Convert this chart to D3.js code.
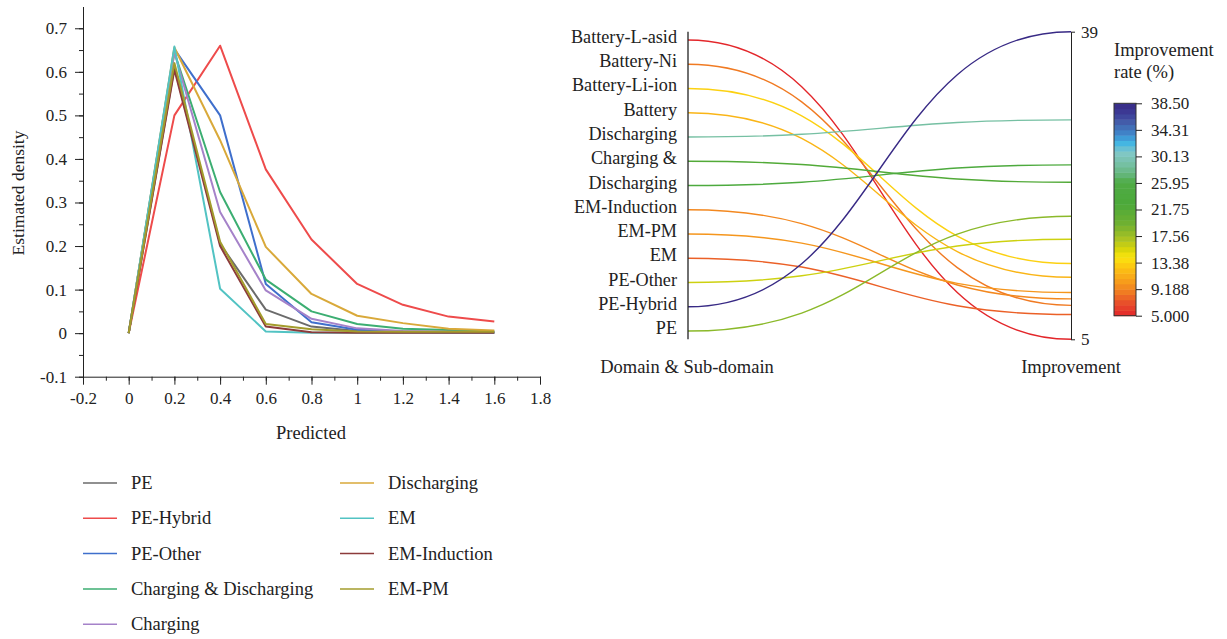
<!DOCTYPE html>
<html>
<head>
<meta charset="utf-8">
<script src="https://cdn.jsdelivr.net/npm/d3@7"></script>
<style>
  body { margin: 0; background: #fff; }
  svg { display: block; font-family: "Liberation Serif", "DejaVu Serif", serif; }
  .axis path, .axis line { stroke: #222; }
  .axis text { font-family: "Liberation Serif", serif; font-size: 17px; fill: #222; }
</style>
</head>
<body>
<svg id="chart" width="1227" height="639"></svg>
<script>
// ---- left chart data (density curves)
const predicted = [0, 0.2, 0.4, 0.6, 0.8, 1.0, 1.2, 1.4, 1.6];
const densityNames = ["PE", "PE-Hybrid", "PE-Other", "Charging & Discharging", "Charging",
                      "Discharging", "EM", "EM-Induction", "EM-PM"];
const densityColors = ["#6b6b6b", "#ee4b4b", "#3f6fcc", "#3cae72", "#a582c9",
                       "#d9a93a", "#52c3c3", "#8c3b3b", "#a39c2c"];
const densityPE         = [0, 0.610, 0.205, 0.054, 0.015, 0.005, 0.003, 0.002, 0.001];
const densityPEHybrid   = [0, 0.500, 0.660, 0.376, 0.215, 0.113, 0.065, 0.038, 0.027];
const densityPEOther    = [0, 0.652, 0.500, 0.113, 0.025, 0.008, 0.004, 0.003, 0.002];
const densityChDis      = [0, 0.645, 0.324, 0.123, 0.050, 0.021, 0.010, 0.007, 0.004];
const densityCharging   = [0, 0.645, 0.278, 0.098, 0.033, 0.011, 0.005, 0.003, 0.002];
const densityDischarg   = [0, 0.656, 0.443, 0.198, 0.090, 0.040, 0.023, 0.010, 0.006];
const densityEM         = [0, 0.658, 0.102, 0.004, 0.001, 0.001, 0.001, 0.001, 0.001];
const densityEMInd      = [0, 0.605, 0.200, 0.015, 0.002, 0.001, 0.001, 0.001, 0.001];
const densityEMPM       = [0, 0.620, 0.210, 0.021, 0.009, 0.004, 0.003, 0.003, 0.003];
const densitySeries = [densityPE, densityPEHybrid, densityPEOther, densityChDis, densityCharging,
                       densityDischarg, densityEM, densityEMInd, densityEMPM];
const xMajor = [-0.2, 0, 0.2, 0.4, 0.6, 0.8, 1, 1.2, 1.4, 1.6, 1.8];
const yMajor = [-0.1, 0, 0.1, 0.2, 0.3, 0.4, 0.5, 0.6, 0.7];

// ---- right chart data (parallel coordinates)
const domains = ["Battery-L-asid", "Battery-Ni", "Battery-Li-ion", "Battery", "Discharging",
                 "Charging", "Charging & Discharging", "EM-Induction", "EM-PM", "EM",
                 "PE-Other", "PE-Hybrid", "PE"];
const domainLabels = ["Battery-L-asid", "Battery-Ni", "Battery-Li-ion", "Battery", "Discharging",
                      "Charging &", "Discharging", "EM-Induction", "EM-PM", "EM",
                      "PE-Other", "PE-Hybrid", "PE"];
const improvement = [5.0, 8.7, 13.25, 11.75, 28.9, 22.1, 24.0, 9.4, 10.1, 7.7, 15.9, 38.5, 18.4];
const improvementRange = [5.0, 38.5];
const colorbarLabels = ["5.000", "9.188", "13.38", "17.56", "21.75", "25.95", "30.13", "34.31", "38.50"];
// colour map stops (fraction of range, colour)
const cmapStops = [0, 0.063, 0.11, 0.173, 0.228, 0.275, 0.314, 0.369, 0.432, 0.526, 0.628,
                   0.667, 0.714, 0.77, 0.816, 0.855, 0.903, 0.95, 1];
const cmapColors = ["#e3262a", "#e8502a", "#f07a22", "#f8a41a", "#fcc412", "#fbe50f", "#d8d50a",
                    "#a5c125", "#70b030", "#4ca93a", "#4fab45", "#65b67c", "#76c0a3", "#82c8c8",
                    "#40b4e4", "#3f88cc", "#4464ad", "#3d3d97", "#382a85"];

const svg = d3.select("#chart");

// ================= left: density chart =================
const x = d3.scaleLinear().domain([-0.2, 1.8]).range([83, 540]);
const y = d3.scaleLinear().domain([-0.1, 0.75]).range([376.7, 6.5]);
const fmt = d => String(+d.toFixed(2));

const left = svg.append("g");

// minor ticks
left.append("g").attr("class", "axis")
    .attr("transform", `translate(0,${y(-0.1)})`)
    .call(d3.axisBottom(x).tickValues(d3.range(-2, 19).map(i => i / 10)).tickSize(4).tickSizeOuter(0).tickFormat(""))
    .call(g => g.select(".domain").remove());
left.append("g").attr("class", "axis")
    .attr("transform", `translate(${x(-0.2)},0)`)
    .call(d3.axisLeft(y).tickValues(d3.range(-2, 15).map(i => i / 20)).tickSize(4).tickSizeOuter(0).tickFormat(""))
    .call(g => g.select(".domain").remove());

// major ticks
left.append("g").attr("class", "axis")
    .attr("transform", `translate(0,${y(-0.1)})`)
    .call(d3.axisBottom(x).tickValues(xMajor).tickSize(8).tickSizeOuter(0).tickPadding(7).tickFormat(fmt));
left.append("g").attr("class", "axis")
    .attr("transform", `translate(${x(-0.2)},0)`)
    .call(d3.axisLeft(y).tickValues(yMajor).tickSize(8).tickSizeOuter(0).tickPadding(8).tickFormat(fmt));

left.append("text")
    .attr("x", 311).attr("y", 439)
    .attr("text-anchor", "middle")
    .attr("font-size", 18.5).attr("fill", "#222")
    .text("Predicted");
left.append("text")
    .attr("transform", "translate(24,193) rotate(-90)")
    .attr("text-anchor", "middle")
    .attr("font-size", 17.5).attr("fill", "#222")
    .text("Estimated density");

const line = d3.line().x((d, i) => x(predicted[i])).y(d => y(d));
left.selectAll(".dens")
    .data(densitySeries)
    .enter()
    .append("path")
    .attr("class", "dens")
    .attr("d", line)
    .attr("fill", "none")
    .attr("stroke", (d, i) => densityColors[i])
    .attr("stroke-width", 2)
    .attr("stroke-linejoin", "round");

// legend
const legend = left.selectAll(".leg")
    .data(densityNames)
    .enter()
    .append("g")
    .attr("class", "leg")
    .attr("transform", (d, i) => i < 5
        ? `translate(83,${483 + i * 35.3})`
        : `translate(340,${483 + (i - 5) * 35.3})`);
legend.append("line")
    .attr("x1", 0).attr("x2", 34).attr("y1", 0).attr("y2", 0)
    .attr("stroke", (d, i) => densityColors[i])
    .attr("stroke-width", 1.5);
legend.append("text")
    .attr("x", 48).attr("y", 6)
    .attr("font-size", 18.5).attr("fill", "#222")
    .text(d => d);

// ================= right: parallel coordinates =================
const axL = 688, axR = 1071;
const yCat = d3.scalePoint().domain(domains).range([31.7, 339.3]).padding(0.34);
const yVal = d3.scaleLinear().domain(improvementRange).range([339.3, 31.7]);
const cmap = d3.scaleLinear()
    .domain(cmapStops.map(f => improvementRange[0] + f * (improvementRange[1] - improvementRange[0])))
    .range(cmapColors)
    .clamp(true);

const right = svg.append("g");
const link = d3.linkHorizontal().x(d => d[0]).y(d => d[1]);

right.selectAll(".pc")
    .data(domains)
    .enter()
    .append("path")
    .attr("class", "pc")
    .attr("d", (d, i) => link({ source: [axL, yCat(d)], target: [axR, yVal(improvement[i])] }))
    .attr("fill", "none")
    .attr("stroke", (d, i) => cmap(improvement[i]))
    .attr("stroke-width", 1.4);

// left axis
right.append("line")
    .attr("x1", axL).attr("x2", axL).attr("y1", 31.7).attr("y2", 339.3)
    .attr("stroke", "#222").attr("stroke-width", 1.3);
right.selectAll(".dlab")
    .data(domainLabels)
    .enter()
    .append("text")
    .attr("class", "dlab")
    .attr("x", axL - 11)
    .attr("y", (d, i) => yCat(domains[i]) + 3)
    .attr("text-anchor", "end")
    .attr("font-size", 18.2).attr("fill", "#222")
    .text(d => d);

// right axis
right.append("g").attr("class", "axis")
    .attr("transform", `translate(${axR},0)`)
    .call(d3.axisRight(yVal).tickValues(improvementRange).tickSize(4).tickSizeOuter(0).tickPadding(6)
        .tickFormat(d3.format(".0f")))
    .call(g => g.selectAll("text").attr("font-size", 18.5));

right.append("text")
    .attr("x", axL - 1).attr("y", 373)
    .attr("text-anchor", "middle").attr("font-size", 18.5).attr("fill", "#222")
    .text("Domain & Sub-domain");
right.append("text")
    .attr("x", axR).attr("y", 373)
    .attr("text-anchor", "middle").attr("font-size", 18.5).attr("fill", "#222")
    .text("Improvement");

// colour bar
const cbX = 1114, cbW = 22;
const cbY = d3.scaleLinear().domain(improvementRange).range([315.7, 103.3]);
const nBands = 40;
const bandVals = d3.range(nBands).map(i => improvementRange[0] + (i + 0.5) * (improvementRange[1] - improvementRange[0]) / nBands);
const bandH = (cbY(improvementRange[0]) - cbY(improvementRange[1])) / nBands;
right.selectAll(".band")
    .data(bandVals)
    .enter()
    .append("rect")
    .attr("x", cbX)
    .attr("y", d => cbY(d) - bandH / 2)
    .attr("width", cbW)
    .attr("height", bandH + 0.5)
    .attr("fill", d => cmap(d));
right.append("rect")
    .attr("x", cbX).attr("y", 103.3).attr("width", cbW).attr("height", 315.7 - 103.3)
    .attr("fill", "none").attr("stroke", "#333").attr("stroke-width", 1);

const cbLab = d3.scalePoint().domain(colorbarLabels).range([315.7, 103.3]);
right.append("g").attr("class", "axis")
    .attr("transform", `translate(${cbX + cbW},0)`)
    .call(d3.axisRight(cbLab).tickSize(6).tickPadding(9))
    .call(g => g.select(".domain").remove())
    .call(g => g.selectAll("text").attr("font-size", 17));

right.append("text")
    .attr("x", cbX).attr("y", 56)
    .attr("font-size", 18.5).attr("fill", "#222")
    .text("Improvement");
right.append("text")
    .attr("x", cbX).attr("y", 78)
    .attr("font-size", 18.5).attr("fill", "#222")
    .text("rate (%)");
</script>
</body>
</html>
